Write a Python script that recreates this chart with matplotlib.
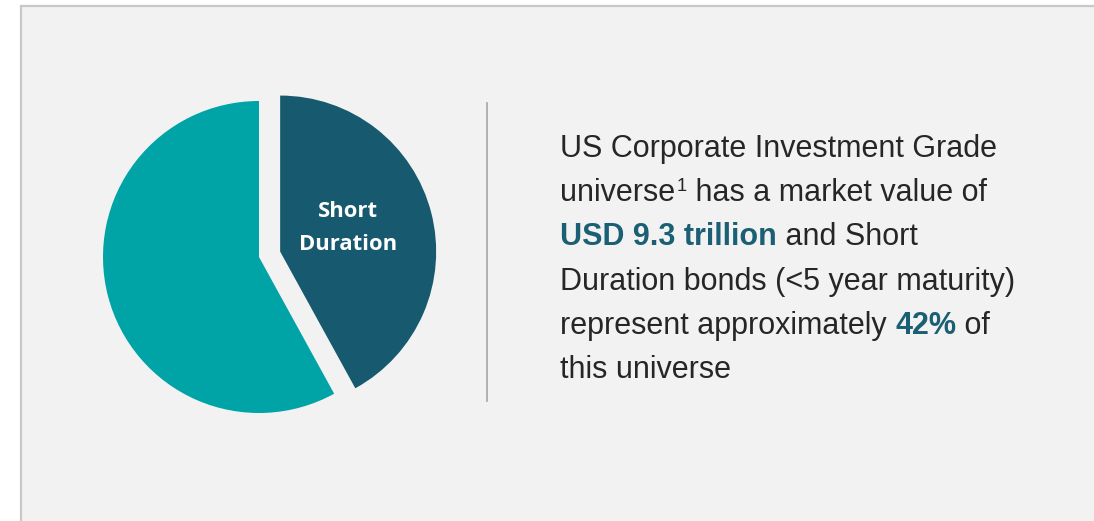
import matplotlib
matplotlib.use("Agg")
import matplotlib.pyplot as plt
from matplotlib.patches import Rectangle
from matplotlib import font_manager
import numpy as np

# data
labels = ["Short\nDuration", "Other"]
shares = [42, 58]
colors = ["#17596e", "#00a3a6"]

# text lines: (segment, style)
text_lines = [
    [("US Corporate Investment Grade", "n")],
    [("universe", "n"), ("1", "sup"), (" has a market value of", "n")],
    [("USD 9.3 trillion", "b"), (" and Short", "n")],
    [("Duration bonds (<5 year maturity)", "n")],
    [("represent approximately ", "n"), ("42%", "b"), (" of", "n")],
    [("this universe", "n")],
]

W, H = 1094, 521
R = 156
fig = plt.figure(figsize=(W / 100, H / 100), dpi=100, facecolor="white")
ax = fig.add_axes([0, 0, 1, 1])

names = {f.name for f in font_manager.fontManager.ttflist}
narrow = "Liberation Sans Narrow" if "Liberation Sans Narrow" in names else "Liberation Sans"
label_font = "Open Sans"

# panel
ax.add_patch(Rectangle((21, -10), W, H - 6 + 10, facecolor="#f2f2f2",
                       edgecolor="#c8c8c8", linewidth=1.6, zorder=0))

# pie (explode is in data units here, axes are in pixels)
wedges, _ = ax.pie(shares, colors=colors, explode=[0.14 * R, 0], startangle=90,
                   counterclock=False, center=(259, H - 257), radius=R,
                   wedgeprops=dict(linewidth=0))
w = wedges[0]
mid = np.deg2rad((w.theta1 + w.theta2) / 2 + 5)
cx, cy = w.center
ax.text(cx + 0.46 * w.r * np.cos(mid), cy + 0.46 * w.r * np.sin(mid), labels[0],
        ha="center", va="center", color="white", fontsize=15.8,
        fontweight="bold", family=label_font, linespacing=1.75)

# divider
ax.plot([487, 487], [H - 103, H - 401], color="#a6a6a6", linewidth=1.2)

ax.set_xlim(0, W)
ax.set_ylim(0, H)
ax.set_aspect("auto")
ax.axis("off")

# paragraph
fig.canvas.draw()
renderer = fig.canvas.get_renderer()
fs = 22
for i, line in enumerate(text_lines):
    x = 560
    y = H - (157 + 44.2 * i)
    for seg, style in line:
        if style == "b":
            t = ax.text(x, y, seg, fontsize=fs, fontweight="bold", color="#1b5f74",
                        family=narrow, va="baseline")
        elif style == "sup":
            t = ax.text(x + 1, y + 10, seg, fontsize=fs * 0.6, color="#262626",
                        family=narrow, va="baseline")
        else:
            t = ax.text(x, y, seg, fontsize=fs, color="#262626",
                        family=narrow, va="baseline")
        bb = t.get_window_extent(renderer)
        x = bb.x1 + (1 if style == "sup" else 0)

fig.savefig("out.png", dpi=100, facecolor="white")
